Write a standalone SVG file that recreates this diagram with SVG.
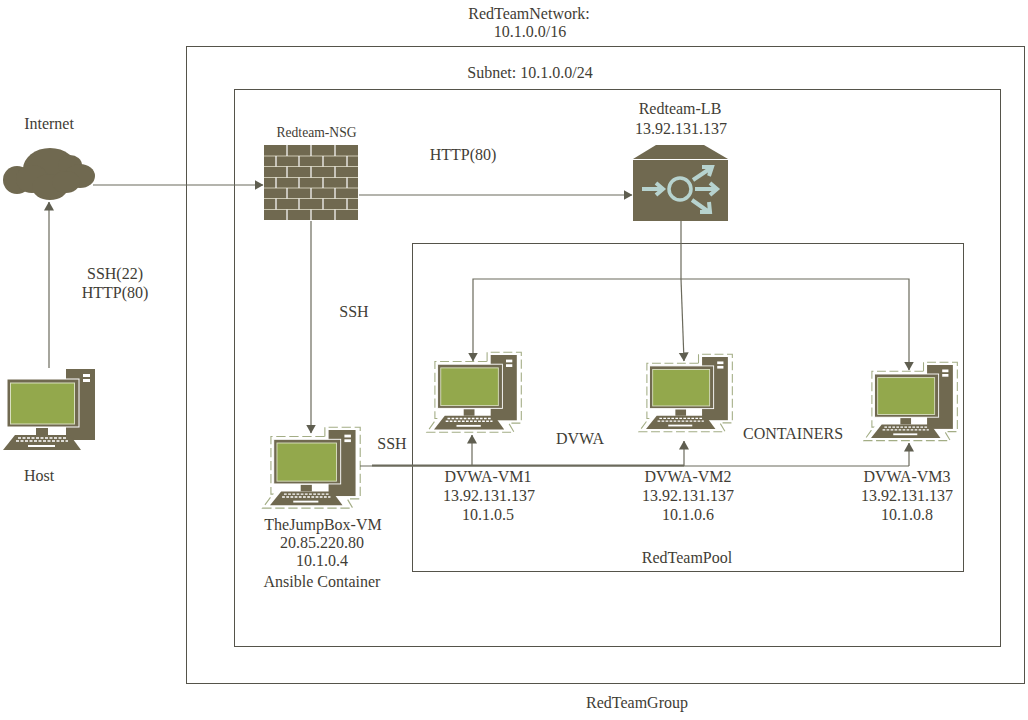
<svg xmlns="http://www.w3.org/2000/svg" xmlns:xlink="http://www.w3.org/1999/xlink" width="1028" height="720" viewBox="0 0 1028 720">
<style>
text{font-family:"Liberation Serif",serif;font-size:16px;fill:#3f3d35;text-anchor:middle}
.box{fill:none;stroke:#55534a;stroke-width:1}
.c{fill:none;stroke:#6b6a5c;stroke-width:1.2;marker-end:url(#a)}
.n{fill:none;stroke:#6b6a5c;stroke-width:1.2}
.d{fill:#706950}
.halo{fill:none;stroke:#a3ad85;stroke-width:1.200;stroke-dasharray:10 4}
.ic{fill:none;stroke:#b7d3cf;stroke-width:4}
</style>
<defs>
<marker id="a" markerUnits="userSpaceOnUse" markerWidth="9" markerHeight="12" refX="8.500" refY="5" orient="auto"><path d="M0 0L9 5L0 10z" fill="#5f5e50"/></marker>
<g id="pc">
<rect class="d" x="66" y="369" width="29" height="71"/>
<rect x="83" y="374" width="7" height="3" fill="#fff"/><rect x="83" y="379" width="7" height="3" fill="#fff"/>
<rect class="d" x="7" y="379" width="72" height="48" stroke="#fff" stroke-width="1"/>
<rect x="10.500" y="383" width="64" height="41" fill="#93a84c" stroke="#d9dfc0" stroke-width="1"/>
<rect class="d" x="36" y="428" width="12" height="7"/>
<path class="d" d="M15 435H70L81 450H3z"/>
<path d="M18 438H66M16 441H68" stroke="#fff" stroke-width="1.500" stroke-dasharray="3 1.500"/>
<rect x="28" y="445" width="27" height="2" fill="#fff"/>
</g>
<g id="pch">
<use href="#pc" xlink:href="#pc"/>
<path class="halo" d="M62 376V366H100V443H86L92 453H-5L6 438H4V376H62"/>
</g>
</defs>
<rect width="1028" height="720" fill="#fff"/>
<g id="regions">
<rect class="box" x="186.500" y="46.500" width="838" height="637"/>
<rect class="box" x="234.500" y="89.500" width="766" height="557"/>
<rect class="box" x="412.500" y="243.500" width="551" height="328"/>
</g>
<g id="internet">
<g class="d"><circle cx="17" cy="180" r="14"/><ellipse cx="50" cy="169" rx="27" ry="21"/><ellipse cx="32" cy="179" rx="16" ry="14"/><ellipse cx="70" cy="165" rx="12" ry="10"/><ellipse cx="80" cy="176" rx="15" ry="12"/><ellipse cx="50" cy="187" rx="18" ry="13"/><ellipse cx="66" cy="182" rx="14" ry="11"/></g>
<text x="49" y="129">Internet</text>
</g>
<g id="nsg">
<rect class="d" x="264" y="145" width="94" height="75"/>
<path d="M264 156H358M264 166.500H358M264 177.500H358M264 188H358M264 198.500H358M264 209.500H358" stroke="#cbc7b2" stroke-width="1.200"/>
<path d="M287 145V156M311 145V156M335 145V156M276 156V166.500M299 156V166.500M323 156V166.500M347 156V166.500M287 166.500V177.500M311 166.500V177.500M335 166.500V177.500M276 177.500V188M299 177.500V188M323 177.500V188M347 177.500V188M287 188V198.500M311 188V198.500M335 188V198.500M276 198.500V209.500M299 198.500V209.500M323 198.500V209.500M347 198.500V209.500M287 209.500V220M311 209.500V220M335 209.500V220" stroke="#fff" stroke-width="1.200"/>
<text x="316.500" y="137" style="font-size:13.600px">Redteam-NSG</text>
</g>
<g id="lb">
<path class="d" d="M633 159L656 145H704L728 159V221H633z"/>
<path d="M633 159.500H728" stroke="#fff" stroke-width="1"/>
<circle cx="680" cy="189" r="11" fill="none" stroke="#b7d3cf" stroke-width="3.500"/>
<path class="ic" d="M642 189H662M656 183L663 189L656 195"/>
<path class="ic" d="M695 189H716M710 183L717 189L710 195"/>
<path class="ic" d="M693 180L711 168M702 167L712 167L709 176"/>
<path class="ic" d="M692 200L709 212M709 202L710 212L700 212"/>
<text x="680" y="114">Redteam-LB</text><text x="681" y="134">13.92.131.137</text>
</g>
<g id="host"><use href="#pc" xlink:href="#pc"/><text x="39" y="481">Host</text></g>
<g id="jumpbox">
<use href="#pch" xlink:href="#pch" transform="translate(270 430) scale(.93) translate(-3 -369)"/>
<text x="323" y="530">TheJumpBox-VM</text><text x="322" y="548">20.85.220.80</text><text x="322" y="566">10.1.0.4</text><text x="322" y="587">Ansible Container</text>
</g>
<g id="vm1">
<use href="#pch" xlink:href="#pch" transform="translate(434 355) scale(.9 .92) translate(-3 -369)"/>
<text x="488" y="482">DVWA-VM1</text><text x="489" y="501">13.92.131.137</text><text x="488" y="520">10.1.0.5</text>
</g>
<g id="vm2">
<use href="#pch" xlink:href="#pch" transform="translate(646 357) scale(.89) translate(-3 -369)"/>
<text x="688" y="482">DVWA-VM2</text><text x="688" y="501">13.92.131.137</text><text x="688" y="520">10.1.0.6</text>
</g>
<g id="vm3">
<use href="#pch" xlink:href="#pch" transform="translate(871 365) scale(.89 .9) translate(-3 -369)"/>
<text x="907" y="482">DVWA-VM3</text><text x="907" y="501">13.92.131.137</text><text x="907" y="520">10.1.0.8</text>
</g>
<g id="connectors">
<path class="c" d="M49 368V202"/>
<path class="c" d="M93 185H263"/>
<path class="c" d="M359 195H632"/>
<path class="c" d="M311 221V433"/>
<path class="n" d="M681 221V279"/>
<path class="c" d="M681 279L684 361"/>
<path class="c" d="M681 279H473V361"/>
<path class="c" d="M681 279H909V370"/>
<path class="n" d="M360 466H909"/>
<path class="n" style="stroke-width:2" d="M372 465.500H684"/>
<path class="c" d="M472 466V435"/>
<path class="c" d="M684 466V441"/>
<path class="c" d="M909 466V443"/>
</g>
<g id="labels">
<text x="529" y="19">RedTeamNetwork:</text><text x="530" y="37">10.1.0.0/16</text>
<text x="530" y="78">Subnet: 10.1.0.0/24</text>
<text x="463" y="160">HTTP(80)</text>
<text x="115" y="279">SSH(22)</text><text x="115" y="298">HTTP(80)</text>
<text x="354" y="317">SSH</text><text x="392" y="449">SSH</text>
<text x="580" y="444">DVWA</text><text x="793" y="439">CONTAINERS</text>
<text x="687" y="563">RedTeamPool</text><text x="637" y="708">RedTeamGroup</text>
</g>
</svg>
